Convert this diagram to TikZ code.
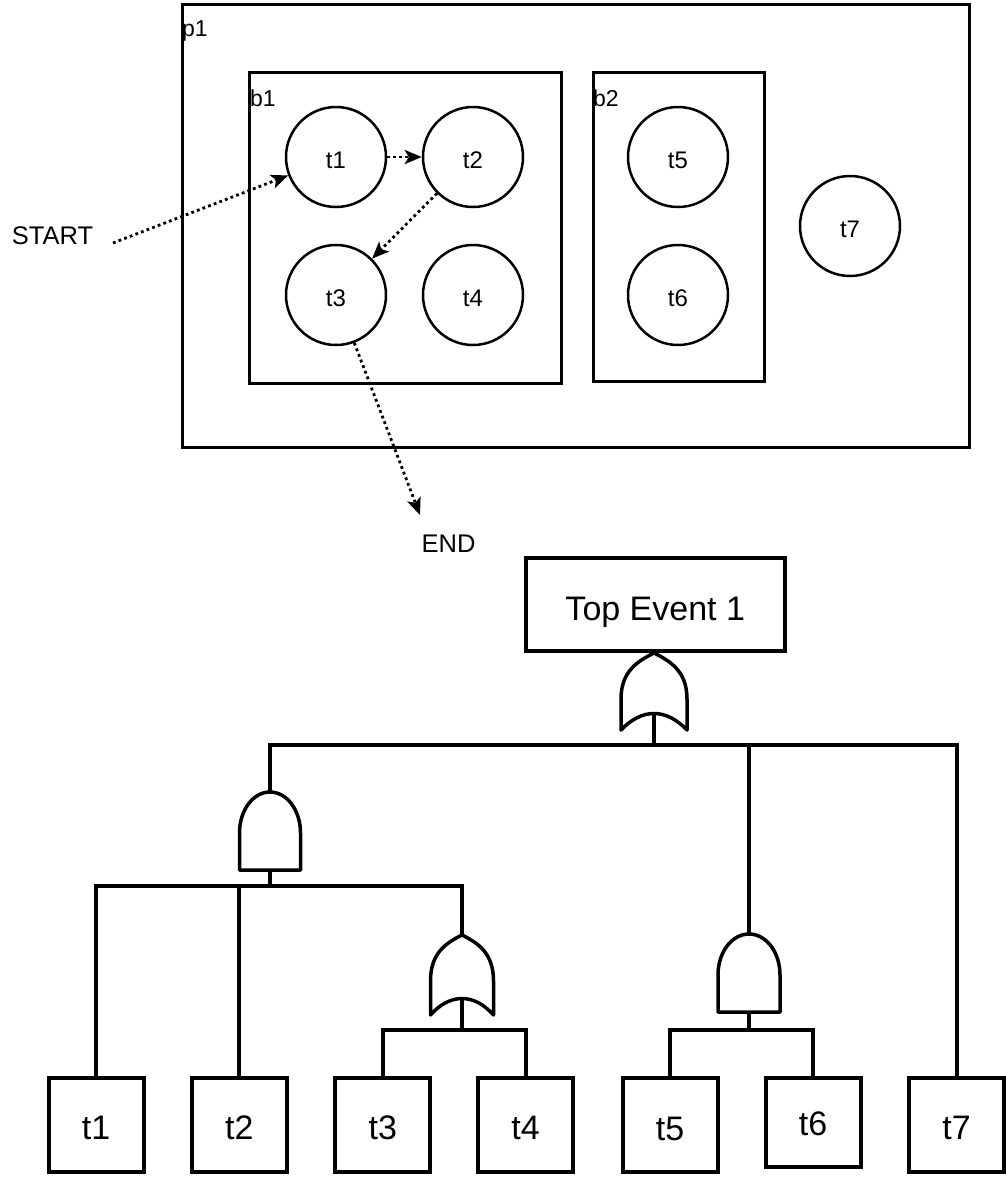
\documentclass[tikz,border=0pt]{standalone}
\usepackage{fontspec}
\setmainfont{Liberation Sans}
\usetikzlibrary{arrows.meta}
\tikzset{
  circ/.style={circle, draw, line width=2.5pt, minimum size=100pt, inner sep=0pt,
    font=\fontsize{24}{24}\selectfont, text height=22pt, text depth=0pt},
  container/.style={draw, line width=3pt, inner sep=0pt},
  cornerlab/.style={anchor=base west, inner sep=0pt, font=\fontsize{23}{23}\selectfont},
  freelab/.style={anchor=base, inner sep=0pt, font=\fontsize{25.5}{25.5}\selectfont},
  flow/.style={line width=2.8pt, dash pattern=on 2.8pt off 3.2pt,
    -{Stealth[length=17pt,width=14pt,inset=4pt]}},
  evbox/.style={draw, line width=4pt, minimum width=95pt, minimum height=93.5pt, inner sep=0pt,
    font=\fontsize{34}{34}\selectfont, text height=30pt, text depth=0pt},
  tree/.style={line width=4pt},
  gate/.style={line width=3.5pt, fill=white, line join=round}
}
% OR gate: name, cx, top, bot, half width
\newcommand\myorgate[5]{%
  \draw[gate] (#2,#3) .. controls +(-16,8) and +(0,-28) .. (#2-#5,#3+46) -- (#2-#5,#4)
     .. controls (#2-12,#4-22) and (#2+12,#4-22) .. (#2+#5,#4) -- (#2+#5,#3+46)
     .. controls +(0,-28) and +(16,8) .. (#2,#3) -- cycle;
  \coordinate (#1in) at (#2,#3);
  \coordinate (#1out) at (#2,#4-16);}
% AND gate: name, cx, top, bot, half width
\newcommand\myandgate[5]{%
  \draw[gate] (#2-#5,#4) -- (#2-#5,#3+41)
     .. controls (#2-#5,#3+18) and (#2-0.55*#5,#3) .. (#2,#3)
     .. controls (#2+0.55*#5,#3) and (#2+#5,#3+18) .. (#2+#5,#3+41) -- (#2+#5,#4) -- cycle;
  \coordinate (#1in) at (#2,#3);
  \coordinate (#1out) at (#2,#4);}
\begin{document}
\begin{tikzpicture}[x=1pt,y=-1pt]
\useasboundingbox[fill=white] (0,0) rectangle (1005,1184);

% ---------- upper diagram ----------
\node[container, minimum width=787pt, minimum height=443pt] (proc) at (575.5,225.5) {};
\node[cornerlab] (proclab) at (182,36.5) {p1};
\node[container, minimum width=312pt, minimum height=310.5pt] (cont1) at (405.5,227.75) {};
\node[cornerlab] (cont1lab) at (250,106) {b1};
\node[container, minimum width=171pt, minimum height=309pt] (cont2) at (679,227) {};
\node[cornerlab] (cont2lab) at (593,106) {b2};

\node[circ] (c1) at (336,157) {t1};
\node[circ] (c2) at (473,157) {t2};
\node[circ] (c3) at (336,295) {t3};
\node[circ] (c4) at (473,295) {t4};
\node[circ] (c5) at (678,157) {t5};
\node[circ] (c6) at (678,295) {t6};
\node[circ] (c7) at (850,226) {t7};

\node[freelab] (startlab) at (52.5,244) {START};
\node[freelab] (endlab) at (448.5,552) {END};
\coordinate (startpt) at (113,243);
\coordinate (endpt) at (420,515);

\draw[flow] (startpt) -- (c1);
\draw[flow] (c1) -- (c2);
\draw[flow] (c2) -- (c3);
\draw[flow] (c3) -- (endpt);

% ---------- fault tree ----------
\node[evbox, minimum width=258.5pt, minimum height=93pt, text height=32pt] (top) at (655.25,604) {Top Event 1};

\node[evbox] (e1) at (96,1124.75) {t1};
\node[evbox] (e2) at (239.25,1124.75) {t2};
\node[evbox] (e3) at (382.75,1124.75) {t3};
\node[evbox] (e4) at (525.5,1124.75) {t4};
\node[evbox] (e5) at (670,1125) {t5};
\node[evbox, minimum height=89pt, text height=25pt] (e6) at (813,1122.5) {t6};
\node[evbox] (e7) at (956.5,1124.75) {t7};

\coordinate (bar0) at (0,745);
\coordinate (bar1) at (0,886);
\coordinate (bar2) at (0,1030);
\coordinate (bar3) at (0,1030);

\myorgate{g0}{654}{653}{730}{33}
\myandgate{g1}{270}{792}{870}{30.5}
\myorgate{g2}{462}{935}{1015}{31.5}
\myandgate{g3}{749}{934}{1012}{31}

\draw[tree] (g1in) -- (g1in |- bar0) -| (g0out);
\draw[tree] (g3in) -- (g3in |- bar0) -| (g0out);
\draw[tree] (e7.north) -- (e7.north |- bar0) -| (g0out);

\draw[tree] (e1.north) -- (e1.north |- bar1) -| (g1out);
\draw[tree] (e2.north) -- (e2.north |- bar1) -| (g1out);
\draw[tree] (g2in) -- (g2in |- bar1) -| (g1out);

\draw[tree] (e3.north) -- (e3.north |- bar2) -| (g2out);
\draw[tree] (e4.north) -- (e4.north |- bar2) -| (g2out);

\draw[tree] (e5.north) -- (e5.north |- bar3) -| (g3out);
\draw[tree] (e6.north) -- (e6.north |- bar3) -| (g3out);
\end{tikzpicture}
\end{document}
